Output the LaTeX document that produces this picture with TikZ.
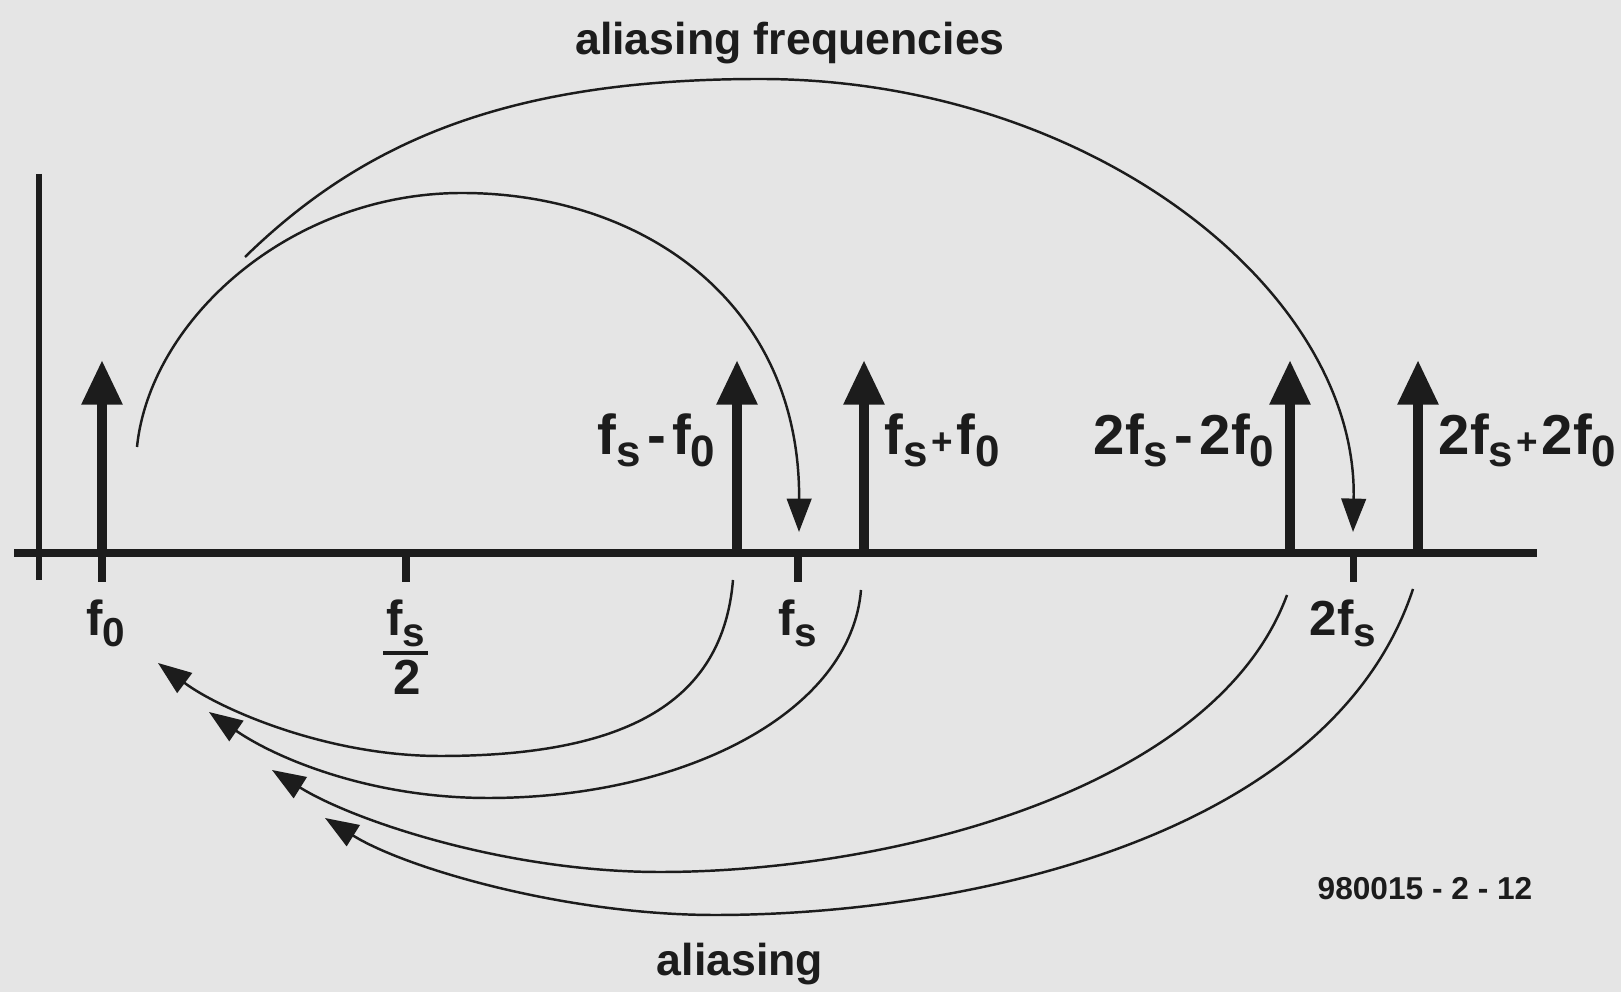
\documentclass[tikz,border=0pt]{standalone}
\usepackage{fontspec}
\setmainfont{Liberation Sans}
\usetikzlibrary{arrows.meta}
\definecolor{bg}{RGB}{229,229,229}
\definecolor{ink}{RGB}{28,28,28}
\newcommand\sbs[1]{\raisebox{-3.2pt}{\fontsize{12.5}{12.5}\selectfont #1}}
\newcommand\sbsa[1]{\raisebox{-3pt}{\fontsize{11.5}{11.5}\selectfont #1}}
\newcommand\smplus{\kern1pt{\fontsize{10.5}{10.5}\selectfont +}\kern1pt}
\newcommand\smminus{\kern1.8pt-\kern1.8pt}
\begin{document}
\begin{tikzpicture}[x=0.01cm, y=-0.01cm,
  spike/.style={ink, line width=2.8pt, -{Triangle[length=12.7pt,width=11pt]}},
  axisline/.style={ink, line width=2.2pt},
  vaxis/.style={ink, line width=1.6pt},
  tickmark/.style={ink, line width=2pt},
  bendarrow/.style={ink, line width=0.7pt, -{Triangle[length=9.5pt,width=7pt]}},
  foldarrow/.style={ink, line width=0.7pt, -{Triangle[length=9.5pt,width=7pt]}},
  lab/.style={ink, font=\fontsize{16}{16}\selectfont\bfseries, inner sep=0pt},
  alab/.style={ink, font=\fontsize{14}{14}\selectfont\bfseries, inner sep=0pt},
  titl/.style={ink, font=\fontsize{12.7}{12.7}\selectfont\bfseries, inner sep=0pt},
  codef/.style={ink, font=\fontsize{9}{9}\selectfont\bfseries, inner sep=0pt}]
\useasboundingbox (0,0) rectangle (1621,992);
\fill[bg] (0,0) rectangle (1621,992);

% axes
\coordinate (hl) at (14,553);
\coordinate (hr) at (1537,553);
\coordinate (vt) at (39,174);
\coordinate (vb) at (39,580);
\draw[axisline] (hl) -- (hr);
\draw[vaxis] (vt) -- (vb);

% ticks
\foreach \n/\x in {tf0/102, thalf/406, tfs/798, t2fs/1353}{
  \coordinate (\n a) at (\x,553);
  \coordinate (\n b) at (\x,582);
  \draw[tickmark] (\n a) -- (\n b);
}

% spikes
\foreach \n/\x in {s0/102, s1/737, s2/864, s3/1290, s4/1418}{
  \coordinate (\n b) at (\x,554);
  \coordinate (\n t) at (\x,360);
  \draw[spike] (\n b) -- (\n t);
}

% upper curves
\coordinate (u1s) at (137,447);
\coordinate (u1p) at (462,193);
\coordinate (u1e) at (799,532);
\draw[bendarrow] (u1s) .. controls (150,320) and (290,193) .. (u1p)
                       .. controls (640,193) and (800,300) .. (u1e);
\coordinate (u2s) at (245,257);
\coordinate (u2p) at (760,79);
\coordinate (u2e) at (1353,532);
\draw[bendarrow] (u2s) .. controls (365,140) and (510,79) .. (u2p)
                       .. controls (1090,79) and (1358,290) .. (u2e);

% lower curves
\coordinate (l1s) at (733,580);
\coordinate (l1m) at (440,756);
\coordinate (l1e) at (158,663);
\draw[foldarrow] (l1s) .. controls (723,700) and (630,756) .. (l1m)
                       .. controls (325,756) and (218,708) .. (l1e);
\coordinate (l2s) at (861,590);
\coordinate (l2m) at (488,798);
\coordinate (l2e) at (209,712);
\draw[foldarrow] (l2s) .. controls (851,712) and (685,798) .. (l2m)
                       .. controls (368,798) and (274,757) .. (l2e);
\coordinate (l3s) at (1287,595);
\coordinate (l3m) at (660,872);
\coordinate (l3e) at (272,770);
\draw[foldarrow] (l3s) .. controls (1215,790) and (890,872) .. (l3m)
                       .. controls (505,872) and (352,820) .. (l3e);
\coordinate (l4s) at (1413,589);
\coordinate (l4m) at (715,915);
\coordinate (l4e) at (325,818);
\draw[foldarrow] (l4s) .. controls (1330,840) and (960,915) .. (l4m)
                       .. controls (565,915) and (405,868) .. (l4e);

% spike labels
\node[lab, anchor=base east] (lsm) at (716,455) {f\sbs{s}\smminus f\sbs{0}};
\node[lab, anchor=base west] (lsp) at (884,455) {f\sbs{s}\smplus f\sbs{0}};
\node[lab, anchor=base east] (l2m) at (1275,455) {2f\sbs{s}\smminus 2f\sbs{0}};
\node[lab, anchor=base west] (l2p) at (1438,455) {2f\sbs{s}\smplus 2f\sbs{0}};

% axis labels
\node[alab, anchor=base] (af0) at (106,636) {f\sbsa{0}};
\node[alab, anchor=base] (ahalf) at (406,636) {f\sbsa{s}};
\coordinate (barl) at (383,653);
\coordinate (barr) at (428,653);
\draw[ink, line width=1.2pt] (barl) -- (barr);
\node[alab, anchor=base] (atwo) at (407,695) {2};
\node[alab, anchor=base] (afs) at (798,636) {f\sbsa{s}};
\node[alab, anchor=base] (a2fs) at (1343,636) {2f\sbsa{s}};

% titles
\node[titl, anchor=base] (top) at (790,55) {aliasing frequencies};
\node[titl, anchor=base] (bottom) at (740,976) {aliasing};
\node[codef, anchor=base] (code) at (1425,900) {980015 - 2 - 12};
\end{tikzpicture}
\end{document}
